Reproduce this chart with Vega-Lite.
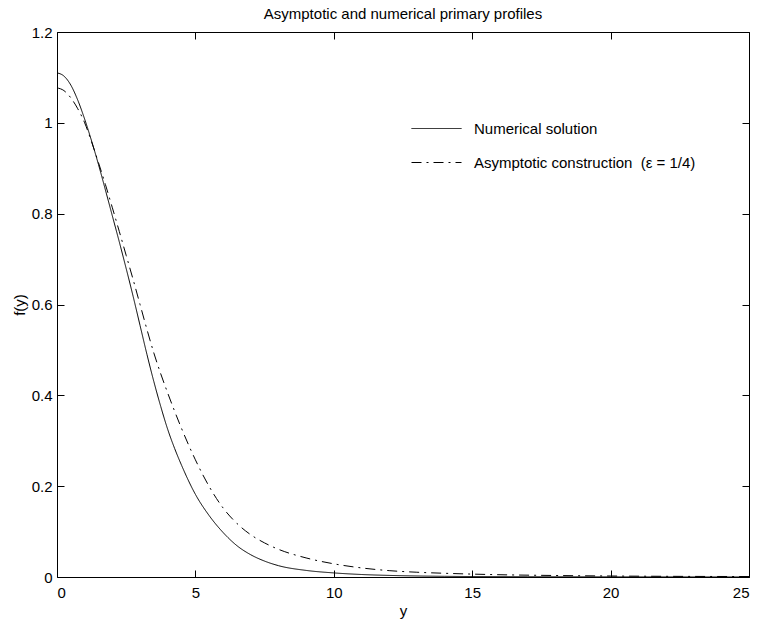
{
  "$schema": "https://vega.github.io/schema/vega-lite/v6.json",
  "width": 692,
  "height": 545,
  "autosize": "none",
  "padding": {"left": 57, "top": 32, "right": 8, "bottom": 45},
  "background": "white",
  "title": {"text": "Asymptotic and numerical primary profiles", "fontSize": 15, "fontWeight": "normal", "anchor": "middle", "offset": 3, "color": "black", "font": "Liberation Sans"},
  "config": {
    "font": "Liberation Sans",
    "view": {"stroke": "black", "strokeWidth": 1},
    "axis": {"grid": false, "domain": false, "tickColor": "black", "labelColor": "black", "titleColor": "black", "labelFontSize": 15, "titleFontSize": 15, "titleFontWeight": "normal", "labelFont": "Liberation Sans", "titleFont": "Liberation Sans"}
  },
  "data": {"values": [
    {"x": 0, "f": 1.110, "series": "Numerical solution"},
    {"x": 0.25, "f": 1.103, "series": "Numerical solution"},
    {"x": 0.5, "f": 1.083, "series": "Numerical solution"},
    {"x": 0.75, "f": 1.050, "series": "Numerical solution"},
    {"x": 1.0, "f": 1.008, "series": "Numerical solution"},
    {"x": 1.25, "f": 0.960, "series": "Numerical solution"},
    {"x": 1.5, "f": 0.908, "series": "Numerical solution"},
    {"x": 1.75, "f": 0.852, "series": "Numerical solution"},
    {"x": 2.0, "f": 0.795, "series": "Numerical solution"},
    {"x": 2.25, "f": 0.738, "series": "Numerical solution"},
    {"x": 2.5, "f": 0.679, "series": "Numerical solution"},
    {"x": 2.75, "f": 0.618, "series": "Numerical solution"},
    {"x": 3.0, "f": 0.554, "series": "Numerical solution"},
    {"x": 3.25, "f": 0.490, "series": "Numerical solution"},
    {"x": 3.5, "f": 0.430, "series": "Numerical solution"},
    {"x": 3.75, "f": 0.375, "series": "Numerical solution"},
    {"x": 4.0, "f": 0.325, "series": "Numerical solution"},
    {"x": 4.25, "f": 0.283, "series": "Numerical solution"},
    {"x": 4.5, "f": 0.246, "series": "Numerical solution"},
    {"x": 5.0, "f": 0.182, "series": "Numerical solution"},
    {"x": 5.5, "f": 0.135, "series": "Numerical solution"},
    {"x": 6.0, "f": 0.098, "series": "Numerical solution"},
    {"x": 6.5, "f": 0.069, "series": "Numerical solution"},
    {"x": 7.0, "f": 0.049, "series": "Numerical solution"},
    {"x": 7.5, "f": 0.035, "series": "Numerical solution"},
    {"x": 8.0, "f": 0.025, "series": "Numerical solution"},
    {"x": 9.0, "f": 0.0145, "series": "Numerical solution"},
    {"x": 10.0, "f": 0.009, "series": "Numerical solution"},
    {"x": 11.0, "f": 0.0055, "series": "Numerical solution"},
    {"x": 12.0, "f": 0.0035, "series": "Numerical solution"},
    {"x": 14.0, "f": 0.0015, "series": "Numerical solution"},
    {"x": 17.0, "f": 0.0006, "series": "Numerical solution"},
    {"x": 20.0, "f": 0.0003, "series": "Numerical solution"},
    {"x": 25.0, "f": 0.0001, "series": "Numerical solution"},
    {"x": 0, "f": 1.077, "series": "Asymptotic construction (ε = 1/4)"},
    {"x": 0.25, "f": 1.071, "series": "Asymptotic construction (ε = 1/4)"},
    {"x": 0.5, "f": 1.055, "series": "Asymptotic construction (ε = 1/4)"},
    {"x": 0.75, "f": 1.031, "series": "Asymptotic construction (ε = 1/4)"},
    {"x": 1.0, "f": 1.000, "series": "Asymptotic construction (ε = 1/4)"},
    {"x": 1.25, "f": 0.958, "series": "Asymptotic construction (ε = 1/4)"},
    {"x": 1.5, "f": 0.912, "series": "Asymptotic construction (ε = 1/4)"},
    {"x": 1.75, "f": 0.864, "series": "Asymptotic construction (ε = 1/4)"},
    {"x": 2.0, "f": 0.813, "series": "Asymptotic construction (ε = 1/4)"},
    {"x": 2.25, "f": 0.761, "series": "Asymptotic construction (ε = 1/4)"},
    {"x": 2.5, "f": 0.708, "series": "Asymptotic construction (ε = 1/4)"},
    {"x": 2.75, "f": 0.655, "series": "Asymptotic construction (ε = 1/4)"},
    {"x": 3.0, "f": 0.600, "series": "Asymptotic construction (ε = 1/4)"},
    {"x": 3.25, "f": 0.545, "series": "Asymptotic construction (ε = 1/4)"},
    {"x": 3.5, "f": 0.493, "series": "Asymptotic construction (ε = 1/4)"},
    {"x": 3.75, "f": 0.447, "series": "Asymptotic construction (ε = 1/4)"},
    {"x": 4.0, "f": 0.405, "series": "Asymptotic construction (ε = 1/4)"},
    {"x": 4.5, "f": 0.327, "series": "Asymptotic construction (ε = 1/4)"},
    {"x": 5.0, "f": 0.258, "series": "Asymptotic construction (ε = 1/4)"},
    {"x": 5.5, "f": 0.199, "series": "Asymptotic construction (ε = 1/4)"},
    {"x": 6.0, "f": 0.152, "series": "Asymptotic construction (ε = 1/4)"},
    {"x": 6.5, "f": 0.118, "series": "Asymptotic construction (ε = 1/4)"},
    {"x": 7.0, "f": 0.093, "series": "Asymptotic construction (ε = 1/4)"},
    {"x": 7.5, "f": 0.075, "series": "Asymptotic construction (ε = 1/4)"},
    {"x": 8.0, "f": 0.061, "series": "Asymptotic construction (ε = 1/4)"},
    {"x": 9.0, "f": 0.042, "series": "Asymptotic construction (ε = 1/4)"},
    {"x": 10.0, "f": 0.029, "series": "Asymptotic construction (ε = 1/4)"},
    {"x": 11.0, "f": 0.020, "series": "Asymptotic construction (ε = 1/4)"},
    {"x": 12.0, "f": 0.014, "series": "Asymptotic construction (ε = 1/4)"},
    {"x": 13.0, "f": 0.0105, "series": "Asymptotic construction (ε = 1/4)"},
    {"x": 14.0, "f": 0.0082, "series": "Asymptotic construction (ε = 1/4)"},
    {"x": 15.6, "f": 0.0055, "series": "Asymptotic construction (ε = 1/4)"},
    {"x": 18.0, "f": 0.0033, "series": "Asymptotic construction (ε = 1/4)"},
    {"x": 20.0, "f": 0.0022, "series": "Asymptotic construction (ε = 1/4)"},
    {"x": 25.0, "f": 0.001, "series": "Asymptotic construction (ε = 1/4)"}
  ]},
  "layer": [
    {
      "mark": {"type": "line", "color": "black", "strokeWidth": 1, "interpolate": "monotone", "clip": true},
      "encoding": {
        "x": {"field": "x", "type": "quantitative", "scale": {"domain": [0, 25], "nice": false, "zero": false},
              "axis": {"orient": "bottom", "values": [0, 5, 10, 15, 20, 25], "tickSize": -7, "labelPadding": 15, "title": "y", "titlePadding": 3, "format": "~g"}},
        "y": {"field": "f", "type": "quantitative", "scale": {"domain": [0, 1.2], "nice": false, "zero": false},
              "axis": {"orient": "left", "values": [0, 0.2, 0.4, 0.6, 0.8, 1, 1.2], "tickSize": -7, "labelPadding": 12, "title": "f(y)", "titlePadding": 4, "format": "~g"}},
        "strokeDash": {"field": "series", "type": "nominal",
          "scale": {"domain": ["Numerical solution", "Asymptotic construction (ε = 1/4)"], "range": [[1, 0], [10, 5, 2, 5]]},
          "legend": {"orient": "none", "legendX": 354, "legendY": 71, "title": null, "symbolType": "stroke", "symbolSize": 2500, "symbolStrokeWidth": 1, "symbolStrokeColor": "black", "labelFontSize": 15, "labelOffset": 12, "labelLimit": 0, "rowPadding": -18, "padding": 0, "labelColor": "black",
            "labelExpr": "datum.label == 'Numerical solution' ? datum.label : '\u2002' + replace(datum.label, ' (', '\u00a0\u00a0(')"}}
      }
    },
    {
      "mark": {"type": "point", "opacity": 0},
      "encoding": {
        "x": {"field": "x", "type": "quantitative", "axis": {"orient": "top", "values": [0, 5, 10, 15, 20, 25], "tickSize": -7, "labels": false, "title": null}},
        "y": {"field": "f", "type": "quantitative", "axis": {"orient": "right", "values": [0, 0.2, 0.4, 0.6, 0.8, 1, 1.2], "tickSize": -7, "labels": false, "title": null}}
      }
    }
  ]
}
